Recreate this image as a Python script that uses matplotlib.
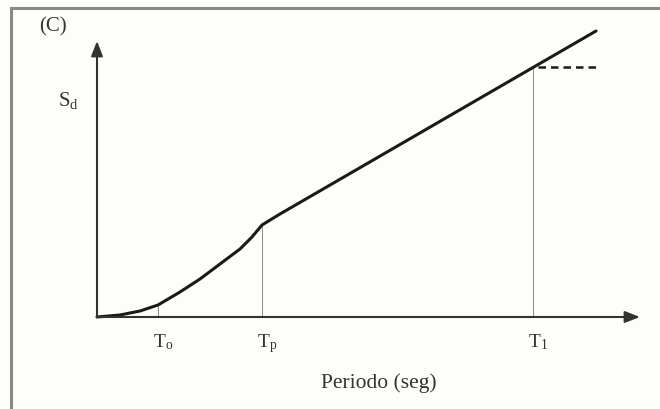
import matplotlib
matplotlib.use("Agg")
import matplotlib.pyplot as plt
from matplotlib.patches import Rectangle

plt.rcParams['font.family'] = ['Liberation Serif', 'DejaVu Serif']
plt.rcParams['mathtext.fontset'] = 'custom'
plt.rcParams['mathtext.rm'] = 'Liberation Serif'
plt.rcParams['mathtext.it'] = 'Liberation Serif'

# spectral displacement curve (arbitrary units)
period = [0.0, 0.23, 0.43, 0.61, 0.83, 1.03, 1.23, 1.43, 1.55, 1.65, 1.83, 4.99]
sd = [0.0, 0.02, 0.06, 0.12, 0.25, 0.38, 0.53, 0.68, 0.80, 0.92, 1.03, 2.86]

# marked periods and their labels
t_marks = [0.61, 1.65, 4.36]
t_heights = [0.12, 0.93, 2.50]
t_labels = [r"T$_\mathrm{o}$", r"T$_\mathrm{p}$", r"T$_\mathrm{1}$"]

# plateau after T1
plateau_t = [4.41, 4.99]
plateau_sd = [2.50, 2.50]

x_end = 5.43
y_end = 2.76

fig = plt.figure(figsize=(6.6, 4.1), dpi=100)
fig.patch.set_facecolor('#fdfdf9')
ax = fig.add_axes([0, 0, 1, 1])
ax.set_xlim(-0.97, 5.63)
ax.set_ylim(-0.92, 3.18)
ax.axis('off')

# frame of the original figure (left and top edges only visible)
ax.add_patch(Rectangle((-0.86, -2.0), 7.0, 5.09, fill=False,
                       edgecolor='#888888', lw=2.2))

# axes with arrows
arrow = dict(arrowstyle='-|>,head_length=0.9,head_width=0.35',
             color='#333333', lw=1.5, shrinkA=0, shrinkB=0)
ax.annotate("", xy=(x_end, 0), xytext=(0, 0), arrowprops=arrow)
ax.annotate("", xy=(0, y_end), xytext=(0, 0), arrowprops=arrow)

# thin verticals at marked periods
for t, h, lab in zip(t_marks, t_heights, t_labels):
    ax.plot([t, t], [0, h], color='#888888', lw=0.7)
    ax.text(t + 0.05, -0.14, lab, ha='center', va='top', fontsize=14,
            color='#333333')

ax.plot(period, sd, color='#1a1a1a', lw=2.2, solid_capstyle='round')
ax.plot(plateau_t, plateau_sd, color='#1a1a1a', lw=1.8, ls=(0, (3, 2)))

ax.text(-0.29, 2.18, r"S$_\mathrm{d}$", ha='center', va='center',
        fontsize=15, color='#333333')
ax.text(-0.44, 2.91, "(C)", ha='center', va='center', fontsize=15,
        color='#333333')
ax.text(2.82, -0.65, "Periodo (seg)", ha='center', va='center',
        fontsize=15.5, color='#333333')

fig.savefig("out.png", dpi=100, facecolor=fig.get_facecolor())
